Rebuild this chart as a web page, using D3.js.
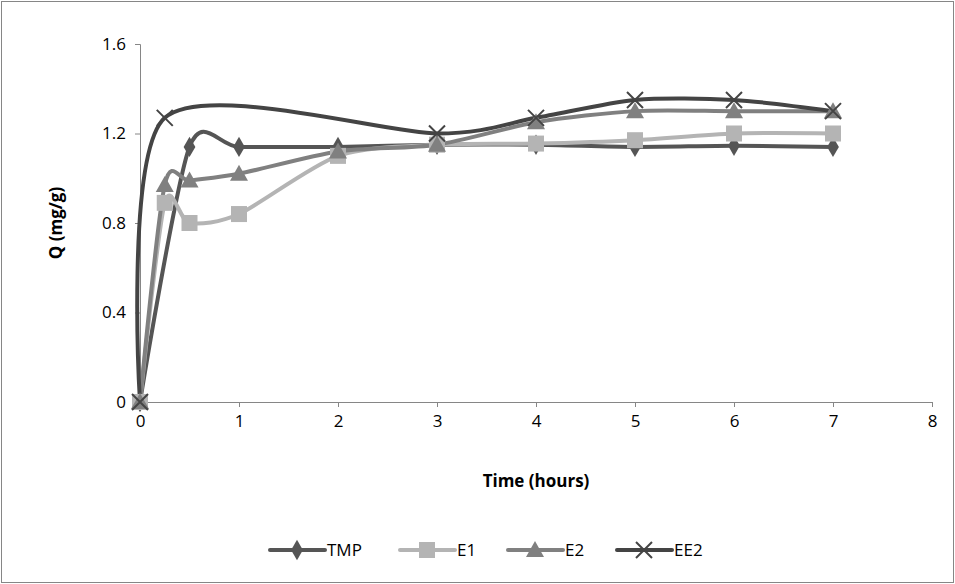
<!DOCTYPE html>
<html><head><meta charset="utf-8">
<script src="https://d3js.org/d3.v7.min.js"></script>
<style>body{margin:0;background:#fff}text{font-family:"Open Sans","Noto Sans",sans-serif}</style>
</head><body>
<svg width="955" height="584"></svg>
<script>
var svg = d3.select("svg");

var seriesNames = ["TMP", "E1", "E2", "EE2"];
var tmpData = [[0,0],[0.5,1.14],[1,1.14],[2,1.14],[3,1.15],[4,1.15],[5,1.14],[6,1.145],[7,1.14]];
var e1Data = [[0,0],[0.25,0.89],[0.5,0.80],[1,0.84],[2,1.10],[3,1.15],[4,1.155],[5,1.17],[6,1.20],[7,1.20]];
var e2Data = [[0,0],[0.25,0.97],[0.5,0.99],[1,1.02],[2,1.12],[3,1.15],[4,1.25],[5,1.30],[6,1.30],[7,1.30]];
var ee2Data = [[0,0],[0.25,1.27],[3,1.20],[4,1.27],[5,1.35],[6,1.35],[7,1.30]];
var xTicks = [0,1,2,3,4,5,6,7,8];
var yTicks = [0,0.4,0.8,1.2,1.6];

var series = [
  {name: "TMP", data: tmpData, color: "#555555", sym: "diamond"},
  {name: "E1", data: e1Data, color: "#b4b4b4", sym: "square"},
  {name: "E2", data: e2Data, color: "#808080", sym: "triangle"},
  {name: "EE2", data: ee2Data, color: "#444444", sym: "cross"}
];

svg.append("rect").attr("x", 1.5).attr("y", 1.5).attr("width", 952).attr("height", 581)
  .attr("fill", "#fff").attr("stroke", "#868686");

var x = d3.scaleLinear().domain([0, 8]).range([140, 932]);
var y = d3.scaleLinear().domain([0, 1.6]).range([402, 44]);

var ax = svg.append("g").attr("transform", "translate(0,402)")
  .call(d3.axisBottom(x).tickValues(xTicks).tickSize(5).tickPadding(8).tickFormat(d3.format("d")));
var ay = svg.append("g").attr("transform", "translate(140,0)")
  .call(d3.axisLeft(y).tickValues(yTicks).tickSize(5).tickPadding(9).tickFormat(function(d){ return d === 0 ? "0" : d3.format(".1f")(d); }));
[ax, ay].forEach(function(a){
  a.selectAll("path,line").attr("stroke", "#868686");
  a.selectAll("text").attr("font-size", 17).attr("fill", "#000");
});

svg.append("text").attr("x", 536).attr("y", 487).attr("text-anchor", "middle")
  .attr("font-size", 17).attr("font-weight", "bold").text("Time (hours)");
svg.append("text").attr("transform", "translate(62,223) rotate(-90)").attr("text-anchor", "middle")
  .attr("font-size", 17).attr("font-weight", "bold").text("Q (mg/g)");

var line = d3.line().x(function(d){ return x(d[0]); }).y(function(d){ return y(d[1]); })
  .curve(d3.curveCardinal.tension(0.2));

function marker(g, sym, color, cx, cy) {
  if (sym === "diamond") g.append("path").attr("d", d3.symbol(d3.symbolDiamond, 120)()).attr("transform", "translate(" + cx + "," + cy + ")").attr("fill", color);
  else if (sym === "square") g.append("rect").attr("x", cx - 8).attr("y", cy - 8).attr("width", 16).attr("height", 16).attr("fill", color);
  else if (sym === "triangle") g.append("path").attr("d", "M" + cx + "," + (cy - 9) + "L" + (cx + 9) + "," + (cy + 7) + "L" + (cx - 9) + "," + (cy + 7) + "Z").attr("fill", color);
  else g.append("path").attr("d", "M" + (cx - 8) + "," + (cy - 8) + "L" + (cx + 8) + "," + (cy + 8) + "M" + (cx + 8) + "," + (cy - 8) + "L" + (cx - 8) + "," + (cy + 8)).attr("stroke", color).attr("stroke-width", 2);
}

series.forEach(function(s){
  svg.append("path").attr("d", line(s.data)).attr("fill", "none").attr("stroke", s.color).attr("stroke-width", 4);
});
series.forEach(function(s){
  var g = svg.append("g");
  s.data.forEach(function(d){ marker(g, s.sym, s.color, x(d[0]), y(d[1])); });
});

var legX = [270, 400, 508, 617];
series.forEach(function(s, i){
  var g = svg.append("g");
  g.append("line").attr("x1", legX[i]).attr("x2", legX[i] + 55).attr("y1", 550).attr("y2", 550)
    .attr("stroke", s.color).attr("stroke-width", 4).attr("stroke-linecap", "round");
  marker(g, s.sym, s.color, legX[i] + 27, 550);
  g.append("text").attr("x", legX[i] + 57).attr("y", 556).attr("font-size", 17).text(s.name);
});
</script>
</body></html>
